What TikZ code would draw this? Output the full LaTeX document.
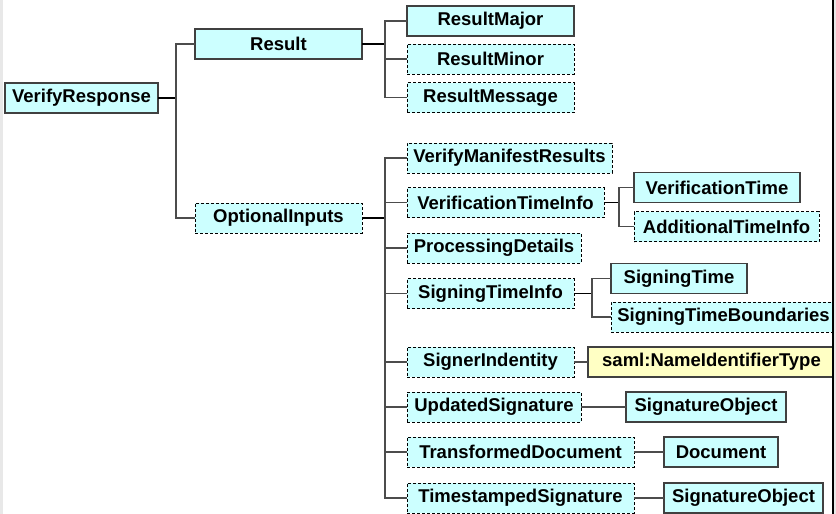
\documentclass[tikz,border=0pt]{standalone}
\usepackage{fontspec}
\setmainfont{Liberation Sans}
\definecolor{elemfill}{RGB}{204,255,255}
\definecolor{typefill}{RGB}{255,255,196}
\begin{document}
\begin{tikzpicture}[x=1pt,y=-1pt,
  every node/.style={inner sep=0pt, outer sep=0pt, minimum height=30pt,
    font=\fontsize{18.5}{21}\selectfont\bfseries},
  elem/.style={draw=black!75, line width=1.3pt, fill=elemfill},
  optelem/.style={draw=black, line width=0.9pt, dash pattern=on 3pt off 2pt, fill=elemfill},
  typebox/.style={draw=black!75, line width=1.3pt, fill=typefill},
  branch/.style={draw=black!70, line width=1.3pt},
  stub/.style={draw=black, line width=1.8pt}]

% page background and frame edges
\useasboundingbox (0,0) rectangle (836,514);
\fill[black!9] (0,0) rectangle (836,514);
\fill[white] (3,0) rectangle (832,514);

% top level
\node[elem, minimum width=153pt] (vr) at (81.5,98) {VerifyResponse};
\node[elem, minimum width=167pt] (res) at (278.5,44) {Result};
\node[optelem, minimum width=167pt] (opt) at (278.5,218) {OptionalInputs};

% Result children
\node[elem, minimum width=167pt] (rmaj) at (490.5,21) {ResultMajor};
\node[optelem, minimum width=167pt] (rmin) at (490.5,59) {ResultMinor};
\node[optelem, minimum width=167pt] (rmsg) at (490.5,97.5) {ResultMessage};

% OptionalInputs children
\node[optelem, minimum width=205pt] (vmr) at (509.5,158) {VerifyManifestResults};
\node[optelem, minimum width=197pt] (vti) at (505.5,202.5) {VerificationTimeInfo};
\node[optelem, minimum width=174pt] (pd) at (494,248) {ProcessingDetails};
\node[optelem, minimum width=167pt] (sti) at (490.5,293.5) {SigningTimeInfo};
\node[optelem, minimum width=167pt] (sid) at (490.5,362) {SignerIndentity};
\node[optelem, minimum width=174pt] (us) at (494,407) {UpdatedSignature};
\node[optelem, minimum width=227pt] (td) at (520.5,452) {TransformedDocument};
\node[optelem, minimum width=227pt] (ts) at (520.5,498) {TimestampedSignature};

% third level
\node[elem, minimum width=166pt] (vt) at (717,187.5) {VerificationTime};
\node[optelem, minimum width=185pt] (ati) at (726.5,226.5) {AdditionalTimeInfo};
\node[elem, minimum width=136pt] (st) at (679,278.5) {SigningTime};
\node[optelem, minimum width=225pt] (stb) at (723.5,317) {SigningTimeBoundaries};
\node[typebox, minimum width=247pt] (saml) at (711.5,362) {saml:NameIdentifierType};
\node[elem, minimum width=160pt] (so1) at (706,407) {SignatureObject};
\node[elem, minimum width=114pt] (doc) at (721,452) {Document};
\node[elem, minimum width=159pt] (so2) at (743.5,498) {SignatureObject};

% junction points
\coordinate (jvr) at (176,98);
\coordinate (jres) at (385,44);
\coordinate (jopt) at (385,218);
\coordinate (jvti) at (619,202.5);
\coordinate (jsti) at (592,293.5);

% connectors
\draw[stub] (vr.east) -- (jvr);
\draw[branch] (res.west) -| (jvr);
\draw[branch] (opt.west) -| (jvr);

\draw[stub] (res.east) -- (jres);
\draw[branch] (rmaj.west) -| (jres);
\draw[branch] (rmin.west) -- (rmin.west -| jres);
\draw[branch] (rmsg.west) -| (jres);

\draw[stub] (opt.east) -- (jopt);
\draw[branch] (vmr.west) -| (jopt);
\draw[branch] (vti.west) -- (vti.west -| jopt);
\draw[branch] (pd.west) -- (pd.west -| jopt);
\draw[branch] (sti.west) -- (sti.west -| jopt);
\draw[branch] (sid.west) -- (sid.west -| jopt);
\draw[branch] (us.west) -- (us.west -| jopt);
\draw[branch] (td.west) -- (td.west -| jopt);
\draw[branch] (ts.west) -| (jopt);

\draw[stub] (vti.east) -- (jvti);
\draw[branch] (vt.west) -| (jvti);
\draw[branch] (ati.west) -| (jvti);

\draw[stub] (sti.east) -- (jsti);
\draw[branch] (st.west) -| (jsti);
\draw[branch] (stb.west) -| (jsti);

\draw[branch] (sid.east) -- (saml.west);
\draw[branch] (us.east) -- (so1.west);
\draw[branch] (td.east) -- (doc.west);
\draw[branch] (ts.east) -- (so2.west);

% right frame edge
\fill[black] (832,0) rectangle (834,514);
\fill[black!9] (834,0) rectangle (836,514);
\end{tikzpicture}
\end{document}
